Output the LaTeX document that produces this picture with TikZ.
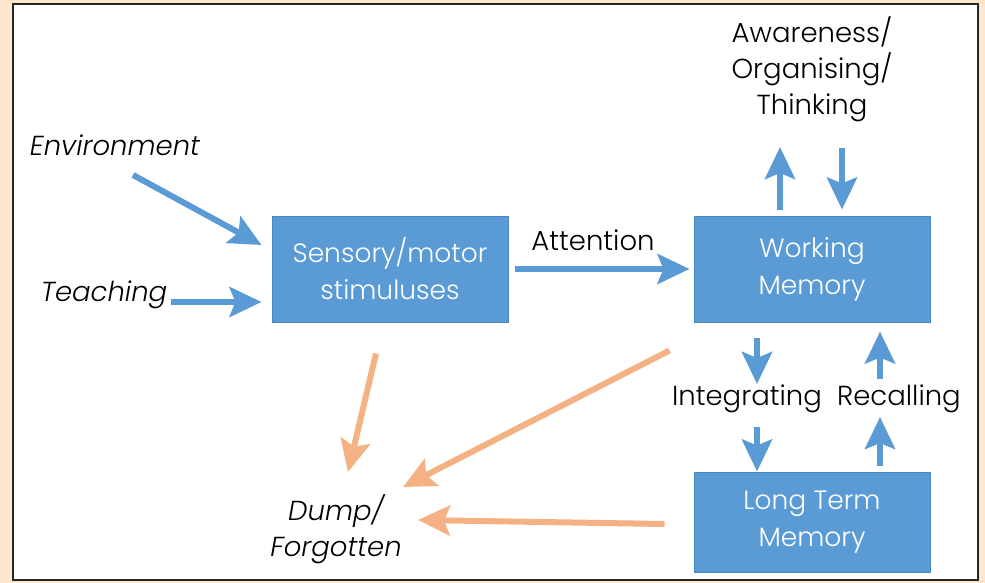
\documentclass[tikz,border=0pt]{standalone}
\usepackage{fontspec}
\setmainfont{Poppins}[UprightFont=* Light, ItalicFont=* Light Italic]
\usetikzlibrary{arrows.meta,positioning}
\definecolor{boxblue}{HTML}{5B9BD5}
\definecolor{boxline}{HTML}{4A86C0}
\definecolor{droporange}{HTML}{F4B183}
\definecolor{paper}{HTML}{FDE6CD}

\begin{document}
\begin{tikzpicture}[x=1pt,y=-1pt,
% Box style
stage/.style={rectangle,draw=boxline,fill=boxblue,line width=1pt,
	minimum width=236pt,minimum height=106pt,text=white,align=center,
	font=\fontsize{26.5}{37}\selectfont},
% Label style
lbl/.style={align=center,font=\fontsize{27.5}{36}\selectfont},
src/.style={align=center,font=\fontsize{27.5}{36}\selectfont\itshape},
% Arrow style
flow/.style={draw=boxblue,line width=6pt,
	-{Stealth[length=32pt,width=30pt,inset=6pt]}},
drop/.style={flow,draw=droporange},
]
%% Background and frame
\fill [paper] (0,0) rectangle (985,583);
\draw [fill=white,draw=black!85,line width=2.5pt] (13,4) rectangle (978,580);
%% Draw stages and labels
\node (sens) [stage] at (390,269) {Sensory/motor\\stimuluses};
\node (wm) [stage] at (812,269) {Working\\Memory};
\node (ltm) [stage,minimum height=100pt] at (812,522) {Long Term\\Memory};
\node (env) [src] at (115,145) {Environment};
\node (teach) [src] at (104,295) {Teaching};
\node (att) [lbl] at (593,240) {Attention};
\node (aware) [lbl] at (812,69) {Awareness/\\Organising/\\Thinking};
\node (integ) [lbl] at (747,399) {Integrating};
\node (recall) [lbl] at (899,399) {Recalling};
\node (dump) [src] at (336,529) {Dump/\\Forgotten};
%% Free arrow ends
\coordinate (e1) at (133,175);
\coordinate (u1) at (780,147);
\coordinate (d1) at (842,148);
\coordinate (i1) at (757,384);
\coordinate (i2) at (757,427);
\coordinate (r1) at (880,379);
\coordinate (r2) at (880,417);
\coordinate (o1) at (348,472);
\coordinate (o2) at (403,487);
\coordinate (o3) at (418,520);
%% Draw arrows
\draw [flow] (e1) -- ([xshift=-10pt,yshift=24pt]sens.west);
\draw [flow] ([yshift=-7pt]teach.east) -- ([xshift=-10pt,yshift=-33pt]sens.west);
\draw [flow,shorten <=6pt,shorten >=4pt] (sens) -- (wm);
\draw [flow] ([xshift=-32pt,yshift=6pt]wm.north) -- (u1);
\draw [flow] (d1) -- ([xshift=30pt,yshift=6pt]wm.north);
\draw [flow] ([xshift=-55pt,yshift=-15pt]wm.south) -- (i1);
\draw [flow] (i2) -- ([xshift=-55pt]ltm.north);
\draw [flow] (r1) -- ([xshift=68pt,yshift=-9pt]wm.south);
\draw [flow] ([xshift=68pt,yshift=6pt]ltm.north) -- (r2);
\draw [drop] ([xshift=-14pt,yshift=-31pt]sens.south) -- (o1);
\draw [drop] ([xshift=-24pt,yshift=-28pt]wm.south west) -- (o2);
\draw [drop] ([xshift=-29pt,yshift=-2pt]ltm.west) -- (o3);
\end{tikzpicture}
\end{document}
